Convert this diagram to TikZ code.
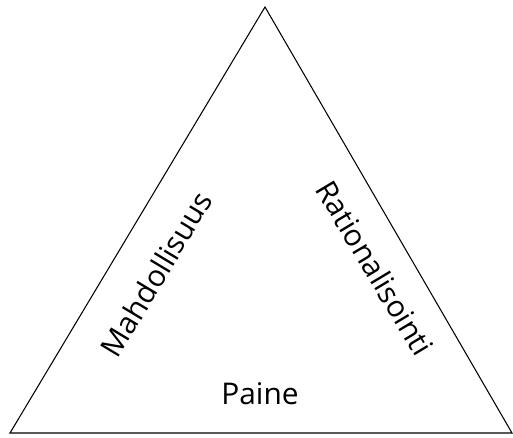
\documentclass[tikz,border=0pt]{standalone}
\usepackage{fontspec}
\setmainfont{Open Sans}
\usetikzlibrary{positioning}
\usetikzlibrary{calc}

\begin{document}
\begin{tikzpicture}
			\tikzstyle{every node}=[inner sep=0pt,font=\fontsize{17}{20}\selectfont]
			\tikzstyle{side}=[line width=0.6pt]
			\useasboundingbox (0,0) rectangle (10.26,8.74);
			
			\coordinate (top) at (5.30,8.60);
			\coordinate (left) at (0.20,0.08);
			\coordinate (right) at (10.24,0.08);
			
			\draw[side] (left) -- (top) -- (right) -- cycle;
			
			\node (mahd) [rotate=59] at (3.12,3.26) {Mahdollisuus};
			\node (rat) [rotate=-59] at (7.50,3.38) {Rationalisointi};
			\node (paine) at (5.20,0.86) {Paine};
		\end{tikzpicture}
\end{document}
